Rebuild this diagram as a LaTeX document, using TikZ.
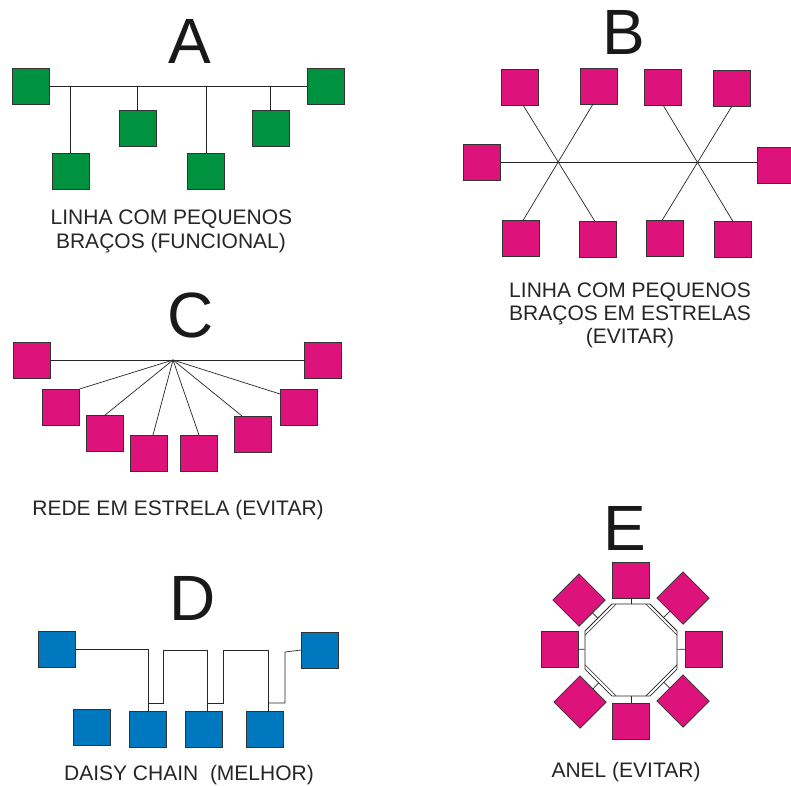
\documentclass[tikz,border=0pt]{standalone}
\usepackage{fontspec}
\setmainfont{Liberation Sans}
\usetikzlibrary{shapes.geometric,calc}
\definecolor{cgreen}{RGB}{0,146,63}
\definecolor{cmag}{RGB}{222,18,123}
\definecolor{cblue}{RGB}{0,120,192}
\begin{document}
\begin{tikzpicture}[x=1pt,y=-1pt,
  box/.style={draw=black!80,line width=0.8pt,minimum width=37pt,minimum height=36pt,inner sep=0pt,outer sep=0pt},
  gbox/.style={box,fill=cgreen},
  mbox/.style={box,fill=cmag},
  bbox/.style={box,fill=cblue},
  dbox/.style={mbox,rotate=45,minimum height=37pt},
  wire/.style={draw=black!85,line width=0.7pt},
  big/.style={font=\fontsize{64}{64}\selectfont,anchor=base,inner sep=0pt,text=black!90},
  lbl/.style={font=\fontsize{21}{24}\selectfont,anchor=base,inner sep=0pt,text=black!85}]
\useasboundingbox[fill=white] (0,0) rectangle (791,785);

% ---------- A ----------
\node[big] (tA) at (190,63) {A};
\node[gbox] (a1) at (30.5,86.5) {};
\node[gbox] (a2) at (325.5,86.5) {};
\node[gbox] (a3) at (70.5,171) {};
\node[gbox] (a4) at (137.5,128) {};
\node[gbox] (a5) at (206,171) {};
\node[gbox] (a6) at (270.5,128) {};
\draw[wire] (a1.east) -- (a2.west);
\foreach \n in {a3,a4,a5,a6} \draw[wire] (\n.north) -- (\n.north |- a1.east);
\node[lbl] (la1) at (171.5,224) {LINHA COM PEQUENOS};
\node[lbl] (la2) at (171,248) {BRAÇOS (FUNCIONAL)};

% ---------- B ----------
\node[big] (tB) at (624,54) {B};
\node[mbox] (bt1) at (519.5,87) {};
\node[mbox] (bt2) at (599,86) {};
\node[mbox] (bt3) at (663,87) {};
\node[mbox] (bt4) at (732,88) {};
\node[mbox] (bml) at (482,162) {};
\node[mbox] (bmr) at (775.5,165) {};
\node[mbox] (bb1) at (520.5,238.5) {};
\node[mbox] (bb2) at (598,239.5) {};
\node[mbox] (bb3) at (664.5,238.5) {};
\node[mbox] (bb4) at (733,239.5) {};
\draw[wire] (bml.east) -- (bml.east -| bmr.west);
\draw[wire] ([xshift=3.5pt]bt1.south) -- ([xshift=-3pt]bb2.north);
\draw[wire] ([xshift=-6pt]bt2.south) -- ([xshift=2.5pt]bb1.north);
\draw[wire] (bt3.south) -- (bb4.north);
\draw[wire] (bt4.south) -- ([xshift=-2.5pt]bb3.north);
\node[lbl] (lb1) at (630,297) {LINHA COM PEQUENOS};
\node[lbl] (lb2) at (630,320) {BRAÇOS EM ESTRELAS};
\node[lbl] (lb3) at (630,343) {(EVITAR)};

% ---------- C ----------
\node[big] (tC) at (191,337) {C};
\node[mbox] (cl1) at (32,360) {};
\node[mbox] (cr1) at (323,360) {};
\node[mbox] (cl2) at (61,407) {};
\node[mbox] (cl3) at (104.5,433.5) {};
\node[mbox] (cl4) at (149,453) {};
\node[mbox] (cr4) at (199,453) {};
\node[mbox] (cr3) at (253,434) {};
\node[mbox] (cr2) at (298.5,407) {};
\coordinate (hub) at (173,360);
\draw[wire] (cl1.east) -- (cr1.west);
\draw[wire] (hub) -- (cl2.north east);
\draw[wire] (hub) -- (cl3.north);
\draw[wire] (hub) -- ([xshift=4pt]cl4.north);
\draw[wire] (hub) -- (cr4.north);
\draw[wire] (hub) -- ([xshift=-11pt]cr3.north);
\draw[wire] (hub) -- ([yshift=13pt]cr2.west);
\node[lbl] (lc) at (178,515) {REDE EM ESTRELA (EVITAR)};

% ---------- D ----------
\node[big] (tD) at (192.5,620) {D};
\node[bbox] (dl) at (56.5,649) {};
\node[bbox] (dr) at (319.5,650) {};
\node[bbox] (db1) at (91.5,727.5) {};
\node[bbox] (db2) at (148,729) {};
\node[bbox] (db3) at (204,729.5) {};
\node[bbox] (db4) at (265,729.5) {};
\draw[wire] (dl.east) -| (db2.north);
\draw[wire] ([yshift=8pt]db2.north) -- (163,703) -- (163,650) -- (207,650) -- ([xshift=3pt]db3.north);
\draw[wire] (207,703) -- (223,703) -- (223,650) -- (268,650) -- ([xshift=3pt]db4.north);
\draw[wire] (268,703) -- (285,703) -- (285,652) -- (dr.west);
\node[lbl] (ld) at (189,780) {DAISY CHAIN\ \ (MELHOR)};

% ---------- E ----------
\node[big] (tE) at (625,550) {E};
\node[draw=black!85,line width=0.8pt,
      regular polygon,regular polygon sides=8,minimum size=99.6pt,
      inner sep=0pt] (ring) at (631,650) {};
\draw[wire,line width=0.6pt] ($(ring.center)+(14.8,-46)$) -- ($(ring.center)+(46,-14.8)$);
\draw[wire,line width=0.6pt] ($(ring.center)+(-14.8,-46)$) -- ($(ring.center)+(-46,-14.8)$);
\draw[wire,line width=0.6pt] ($(ring.center)+(14.8,46)$) -- ($(ring.center)+(46,14.8)$);
\draw[wire,line width=0.6pt] ($(ring.center)+(-14.8,46)$) -- ($(ring.center)+(-46,14.8)$);
\node[mbox] (et) at (631,580) {};
\node[mbox] (eb) at (631,721) {};
\node[mbox] (el) at (560,649) {};
\node[mbox] (er) at (704,649) {};
\node[dbox] (etl) at (579,600) {};
\node[dbox] (etr) at (683,598) {};
\node[dbox] (ebl) at (580,702) {};
\node[dbox] (ebr) at (683,701) {};
\foreach \n in {et,eb,el,er,etl,etr,ebl,ebr} \draw[wire] (\n) -- (ring);
\node[lbl] (le) at (626,777) {ANEL (EVITAR)};
\end{tikzpicture}
\end{document}
